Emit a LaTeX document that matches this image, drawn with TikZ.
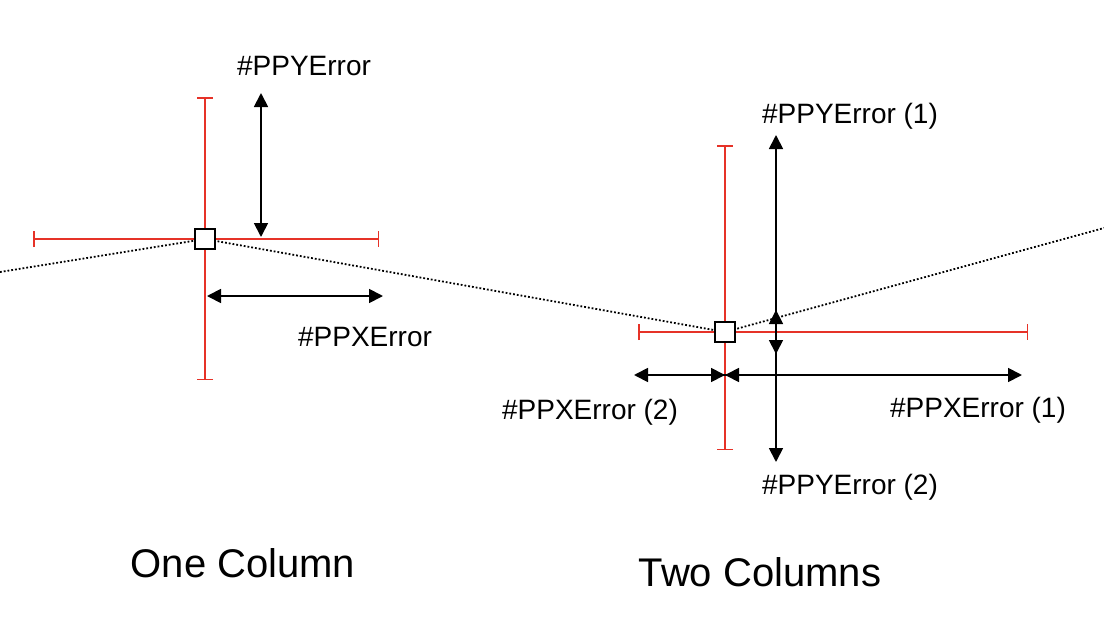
\documentclass[tikz,border=0pt]{standalone}
\usepackage{fontspec}
\setmainfont{Liberation Sans}
\usetikzlibrary{arrows.meta}
\begin{document}
\begin{tikzpicture}[x=1pt,y=-1pt,
  err/.style={draw={rgb,255:red,230;green,50;blue,40},line width=1.5pt,{Bar[width=16pt]}-{Bar[width=16pt]}},
  arr/.style={draw=black,line width=1.8pt,{Triangle[length=14pt,width=14pt]}-{Triangle[length=14pt,width=14pt]}},
  sarr/.style={draw=black,line width=1.8pt,-{Triangle[length=14pt,width=14pt]}},
  pt/.style={draw=black,fill=white,line width=1.5pt,minimum size=20pt,inner sep=0pt},
  lab/.style={font=\fontsize{28}{32}\selectfont},
  big/.style={font=\fontsize{40}{46}\selectfont}]
\useasboundingbox (0,0) rectangle (1104,632);
\coordinate (s) at (0,272);
\coordinate (e) at (1104,228);
\coordinate (p1) at (205,239);
\coordinate (p2) at (725,332);
\draw[line width=1.8pt,dotted] (s) -- (p1) -- (p2) -- (e);
% left
\coordinate (l1t) at (205,97); \coordinate (l1b) at (205,380);
\coordinate (l1l) at (33,239); \coordinate (l1r) at (379,239);
\draw[err] (l1t) -- (l1b);
\draw[err] (l1l) -- (l1r);
\node[pt] (a) at (p1) {};
\coordinate (ya) at (261,93); \coordinate (yb) at (261,237);
\draw[arr] (ya) -- (yb);
\coordinate (xa) at (207,296); \coordinate (xb) at (383,296);
\draw[arr] (xa) -- (xb);
\node[lab] (ly) at (304,66) {\#PPYError};
\node[lab] (lx) at (365,337) {\#PPXError};
% right
\coordinate (r1t) at (725,145); \coordinate (r1b) at (725,450);
\coordinate (r1l) at (638,332); \coordinate (r1r) at (1028,332);
\draw[err] (r1t) -- (r1b);
\draw[err] (r1l) -- (r1r);
\node[pt] (b) at (p2) {};
\coordinate (c) at (776,332);
\coordinate (yt) at (776,135); \coordinate (ydn) at (776,462);
\draw[sarr] (c) -- (yt);
\draw[sarr] (c) -- (ydn);
\draw[sarr,{Triangle[length=14pt,width=14pt]}-] (776,310) -- (c);
\draw[sarr,{Triangle[length=14pt,width=14pt]}-] (776,354) -- (c);
\coordinate (hc) at (725,375);
\coordinate (hl) at (634,375); \coordinate (hr) at (1022,375);
\draw[sarr] (hc) -- (hl);
\draw[sarr] (hc) -- (hr);
\draw[sarr] ([xshift=-20]hc) -- (hc);
\draw[sarr] ([xshift=20]hc) -- (hc);
\node[lab] (ly1) at (850,116) {\#PPYError (1)};
\node[lab] (lx2) at (590,412) {\#PPXError (2)};
\node[lab] (lx1) at (978,410) {\#PPXError (1)};
\node[lab] (ly2) at (850,487) {\#PPYError (2)};
\node[big] (t1) at (243,563) {One Column};
\node[big] (t2) at (760,572) {Two Columns};
\end{tikzpicture}
\end{document}
